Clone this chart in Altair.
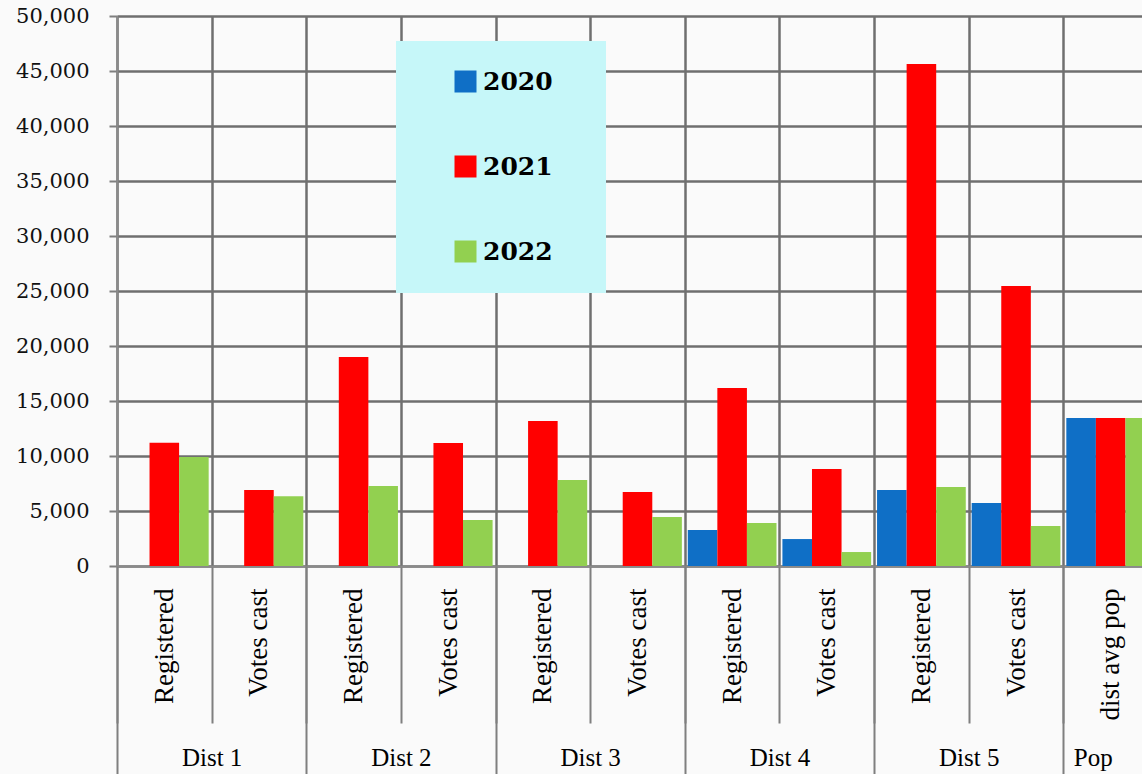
import altair as alt
import pandas as pd

# Two-level categories: district and measure
districts = ["Dist 1", "Dist 1", "Dist 2", "Dist 2", "Dist 3", "Dist 3",
             "Dist 4", "Dist 4", "Dist 5", "Dist 5", "Pop"]
measures = ["Registered", "Votes cast", "Registered", "Votes cast",
            "Registered", "Votes cast", "Registered", "Votes cast",
            "Registered", "Votes cast", "dist avg pop"]

years = ["2020", "2021", "2022"]
v2020 = [None, None, None, None, None, None, 3270, 2450, 6900, 5730, 13450]
v2021 = [11200, 6900, 19000, 11180, 13180, 6730, 16180, 8820, 45640, 25450, 13450]
v2022 = [9900, 6350, 7270, 4180, 7820, 4450, 3910, 1270, 7180, 3640, 13450]

colors = ["#0f6fc6", "#ff0000", "#92d050"]

keys = [f"{d}|{m}" for d, m in zip(districts, measures)]

rows = []
for year, series in zip(years, [v2020, v2021, v2022]):
    for k, d, m, v in zip(keys, districts, measures, series):
        if v is not None:
            rows.append({"key": k, "district": d, "measure": m, "year": year, "value": v})
df = pd.DataFrame(rows)
cats = pd.DataFrame({"key": keys})

FONT = "Liberation Serif"
NUM_FONT = "DejaVu Serif"
GRID = "#6f6f6f"
TICK = "#7f7f7f"

xscale = alt.Scale(domain=keys, paddingInner=0, paddingOuter=0, range=[0, 1041])

bars = alt.Chart(df).mark_bar().encode(
    x=alt.X(
        "key:N", sort=keys, scale=xscale,
        axis=alt.Axis(
            title=None, orient="bottom",
            labelExpr="isString(datum.label) && indexof(datum.label, '|') >= 0 ? split(datum.label, '|')[1] : ''",
            labelAngle=270, labelAlign="right", labelBaseline="middle",
            labelFont=FONT, labelFontSize=27, labelColor="#000000",
            labelPadding=-135, labelOverlap=False,
            tickBand="extent", tickSize=157, tickColor=TICK, tickWidth=2,
            grid=True, gridColor=GRID, gridWidth=2.5,
            domainColor="#8a8a8a", domainWidth=2,
        ),
    ),
    xOffset=alt.XOffset("year:N", scale=alt.Scale(domain=years, paddingOuter=0.1, paddingInner=0)),
    y=alt.Y(
        "value:Q", scale=alt.Scale(domain=[0, 50000], nice=False),
        axis=alt.Axis(
            title=None, values=list(range(0, 50001, 5000)), format=",d",
            labelFont=NUM_FONT, labelFontSize=21, labelColor="#111111",
            labelPadding=20, tickSize=8, tickColor=TICK, tickWidth=2,
            grid=True, gridColor=GRID, gridWidth=2.5,
            domainColor="#8a8a8a", domainWidth=2,
        ),
    ),
    color=alt.Color(
        "year:N", scale=alt.Scale(domain=years, range=colors),
        legend=alt.Legend(
            title=None, orient="none", legendX=279, legendY=25,
            fillColor="#c6f7f9", padding=28, rowPadding=59,
            symbolType="square", symbolSize=484, symbolStrokeWidth=0,
            symbolOffset=29, labelOffset=5,
            labelFont=NUM_FONT, labelFontSize=25, labelFontWeight="bold",
            labelColor="#000000",
            # blank trailing glyphs widen the box on the right
            labelExpr="datum.label + '\u2009\u2800'",
        ),
    ),
)

# District row of the axis: long separators at district edges and centred names.
# Ticks sit at band ends; the extra tick (no value) marks the left edge.
district_tick_hidden = (
    "isString(datum.value) && indexof(datum.value, 'Votes cast') < 0 "
    "&& indexof(datum.value, 'Pop|') < 0"
)
district_axis = alt.Chart(cats).mark_point(opacity=0).encode(
    x=alt.X(
        "key:N", sort=keys, scale=xscale,
        axis=alt.Axis(
            title=None, orient="bottom",
            labelExpr="isString(datum.label) && (indexof(datum.label, 'Registered') >= 0 || indexof(datum.label, 'Pop|') == 0) ? split(datum.label, '|')[0] : ''",
            labelAngle=0, labelAlign="center", labelBaseline="top",
            labelFont=FONT, labelFontSize=25, labelColor="#000000",
            labelPadding=-41, labelOverlap=False,
            labelOffset={"condition": {"test": "isString(datum.value) && indexof(datum.value, 'Pop|') == 0", "value": -18}, "value": 47.3},
            tickBand="extent", tickSize=220, tickColor=TICK, tickWidth=2,
            tickOpacity={"condition": {"test": district_tick_hidden, "value": 0}, "value": 1},
            grid=False, domain=False,
        ),
    ),
    y=alt.value(0),
)

chart = alt.layer(bars, district_axis).resolve_axis(x="independent").properties(
    width=1025, height=550,
    autosize=alt.AutoSizeParams(type="none"),
    padding={"left": 117, "top": 16, "right": 0, "bottom": 208},
).configure(background="#fafafa").configure_view(stroke=None)

chart.save("out.html", embed_options={"renderer": "svg", "actions": False})
